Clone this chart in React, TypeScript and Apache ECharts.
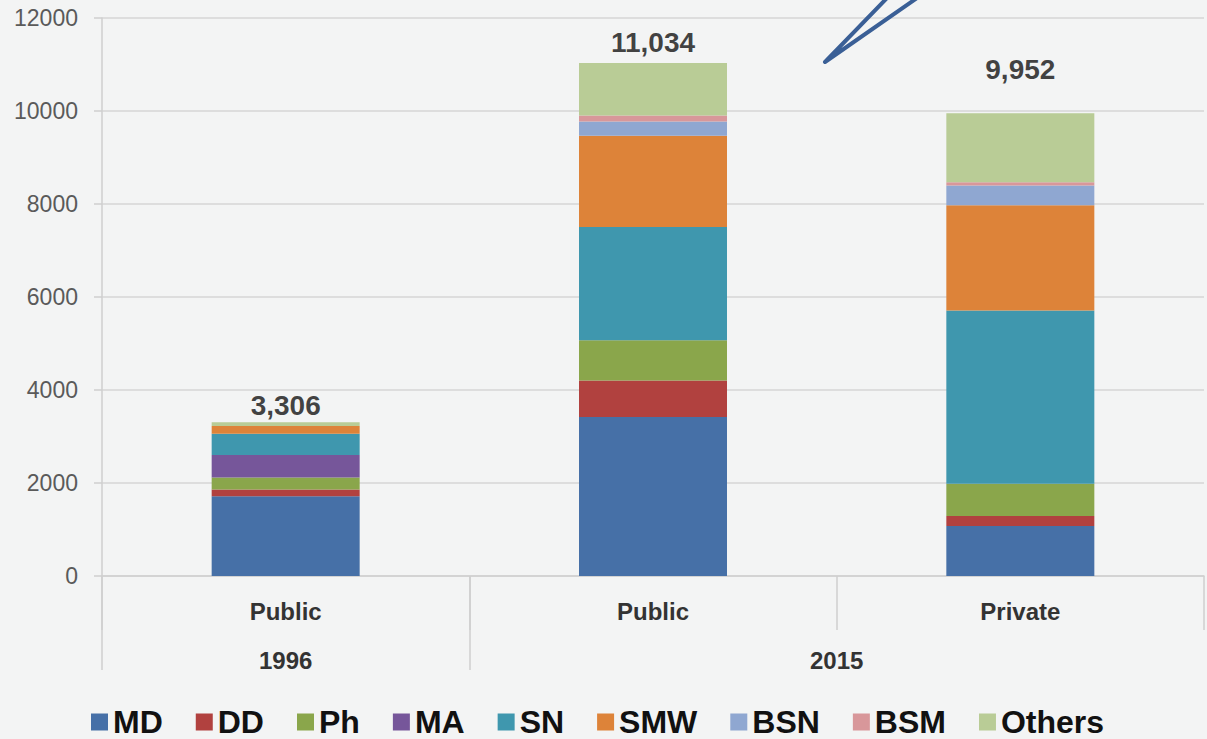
import React, { useEffect, useRef } from "react";
import * as echarts from "echarts";

const categories = ["Public", "Public", "Private"];
const groupLabels = ["", "1996", "", "", "2015", "", ""];
const seriesNames = ["MD", "DD", "Ph", "MA", "SN", "SMW", "BSN", "BSM", "Others"];

const MD = [1717, 3422, 1076];
const DD = [142, 780, 216];
const Ph = [261, 867, 690];
const MA = [481, 0, 0];
const SN = [459, 2435, 3728];
const SMW = [166, 1964, 2262];
const BSN = [0, 305, 425];
const BSM = [0, 128, 70];
const Others = [80, 1133, 1485];
const totals = [3306, 11034, 9952];

const yMin = 0;
const yMax = 12000;
const yInterval = 2000;

const seriesValues = [MD, DD, Ph, MA, SN, SMW, BSN, BSM, Others];
const colors = ["#4670a7", "#b1413f", "#8aa64b", "#76569a", "#3f97ae", "#dd8339", "#8fa7d1", "#d8979a", "#b9cc96"];
const totalLabelDistance = [3, 6, 30];

const FONT = "'Liberation Sans', Arial, sans-serif";

export default function App() {
  const ref = useRef<HTMLDivElement>(null);

  useEffect(() => {
    if (!ref.current) return;
    const chart = echarts.init(ref.current, undefined, { renderer: "svg" });

    const barSeries = seriesNames.map((name, i) => ({
      name,
      type: "bar",
      stack: "total",
      xAxisIndex: 0,
      yAxisIndex: 0,
      barWidth: 148,
      itemStyle: { color: colors[i] },
      data: seriesValues[i],
    }));

    const option = {
      animation: false,
      backgroundColor: "#f3f4f4",
      grid: { left: 102, top: 18, width: 1106, height: 558, containLabel: false },
      legend: {
        data: seriesNames,
        left: 86,
        top: 700,
        icon: "rect",
        itemWidth: 17,
        itemHeight: 17,
        itemGap: 33,
        textStyle: { fontFamily: FONT, fontSize: 32, lineHeight: 34, fontWeight: "bold", color: "#111" },
      },
      xAxis: [
        {
          type: "category",
          data: categories,
          gridIndex: 0,
          position: "bottom",
          axisLine: { show: true, lineStyle: { color: "#cfcfcf", width: 1.5 } },
          axisTick: { show: true, length: 54, lineStyle: { color: "#cfcfcf", width: 1.5 } },
          axisLabel: {
            margin: 23,
            fontFamily: FONT,
            fontSize: 24,
            fontWeight: "bold",
            color: "#333",
          },
        },
        {
          type: "category",
          data: groupLabels,
          gridIndex: 0,
          position: "bottom",
          boundaryGap: false,
          axisLine: { show: false },
          axisTick: {
            show: true,
            length: 94,
            interval: (index: number) => index === 0 || index === 2,
            lineStyle: { color: "#cfcfcf", width: 1.5 },
          },
          axisLabel: {
            interval: 0,
            margin: 72,
            fontFamily: FONT,
            fontSize: 24,
            fontWeight: "bold",
            color: "#333",
          },
        },
      ],
      yAxis: {
        type: "value",
        min: yMin,
        max: yMax,
        interval: yInterval,
        axisLine: { show: true, lineStyle: { color: "#cfcfcf", width: 1.5 } },
        axisTick: { show: true, length: 8, lineStyle: { color: "#cfcfcf", width: 1.5 } },
        splitLine: { show: true, lineStyle: { color: "#d6d6d6", width: 1.5 } },
        axisLabel: {
          margin: 24,
          fontFamily: FONT,
          fontSize: 23,
          color: "#5a5a5a",
          formatter: (v: number) => String(v),
        },
      },
      series: [
        ...barSeries,
        {
          name: "Total",
          type: "scatter",
          xAxisIndex: 0,
          yAxisIndex: 0,
          symbolSize: 0,
          silent: true,
          data: totals.map((v, i) => ({
            value: v,
            label: { distance: totalLabelDistance[i] },
          })),
          label: {
            show: true,
            position: "top",
            fontFamily: FONT,
            fontSize: 28,
            fontWeight: "bold",
            color: "#111",
            formatter: (p: any) => Number(p.value).toLocaleString("en-US"),
          },
        },
      ],
      graphic: [
        {
          type: "polyline",
          z: 100,
          shape: { points: [[887, -2], [825, 62], [917, -2]] },
          style: { stroke: "#3a5f96", lineWidth: 4, fill: "none", lineJoin: "round", lineCap: "round" },
        },
      ],
    };

    chart.setOption(option as any);
    return () => chart.dispose();
  }, []);

  return (
    <div
      ref={ref}
      style={{ position: "absolute", left: 0, top: 0, width: 1207, height: 739, background: "#f3f4f4" }}
    />
  );
}
